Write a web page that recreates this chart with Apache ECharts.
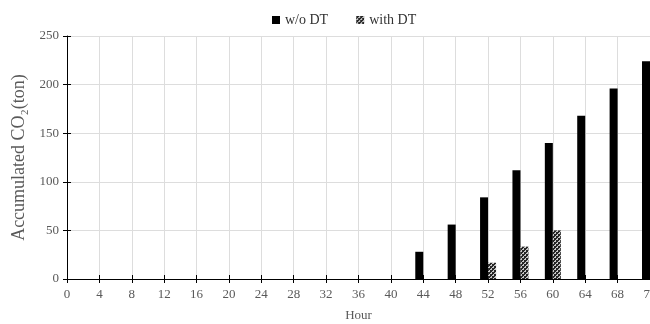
<!DOCTYPE html>
<html>
<head>
<meta charset="utf-8">
<script src="https://cdn.jsdelivr.net/npm/echarts@6/dist/echarts.min.js"></script>
<style>html,body{margin:0;padding:0;background:#fff;}#c{width:650px;height:324px;}</style>
</head>
<body>
<div id="c"></div>
<script>
const hours = ['0','4','8','12','16','20','24','28','32','36','40','44','48','52','56','60','64','68','72'];
const withoutDT = [0,0,0,0,0,0,0,0,0,0,0,28,56,84,112,140,168,196,224];
const withDT = [0,0,0,0,0,0,0,0,0,0,0,0,0,16.7,33.3,50,0,0,0];
const yTicks = {min:0, max:250, interval:50};

function makePattern(){
  const c = document.createElement('canvas');
  c.width = 4; c.height = 4;
  const g = c.getContext('2d');
  g.fillStyle = '#c8c8c8'; g.fillRect(0,0,4,4);
  g.fillStyle = '#262626';
  g.fillRect(0,0,2,2); g.fillRect(2,2,2,2);
  g.fillRect(2,0,1,1); g.fillRect(0,2,1,1);
  return c;
}
const pat = {image: makePattern(), repeat: 'repeat'};
const font = '"Liberation Serif", "Times New Roman", serif';

const chart = echarts.init(document.getElementById('c'), null, {renderer:'canvas'});
chart.setOption({
  animation:false,
  textStyle:{fontFamily:font},
  legend:{
    top:8, left:267, itemWidth:8, itemHeight:8, itemGap:28, icon:'rect',
    textStyle:{fontFamily:font, fontSize:14, color:'#333'},
    data:['w/o DT','with DT']
  },
  grid:{left:67, right:0, top:36, bottom:45, containLabel:false, outerBoundsMode:'none'},
  xAxis:[{
    type:'category', data:hours, boundaryGap:false, position:'bottom',
    name:'Hour', nameLocation:'middle', nameGap:30,
    nameTextStyle:{fontFamily:font, fontSize:13, color:'#595959'},
    axisLine:{lineStyle:{color:'#000', width:1}},
    axisTick:{show:true, length:4, lineStyle:{color:'#000'}},
    axisLabel:{fontFamily:font, fontSize:13, color:'#595959', margin:9, interval:0, hideOverlap:false},
    splitLine:{show:true, lineStyle:{color:'#dddddd'}}
  },{
    type:'category', data:hours, boundaryGap:false, position:'bottom',
    axisLine:{show:false}, axisLabel:{show:false}, splitLine:{show:false},
    axisTick:{show:true, inside:true, length:4, lineStyle:{color:'#000'}}
  }],
  yAxis:[{
    type:'value', min:yTicks.min, max:yTicks.max, interval:yTicks.interval,
    name:'Accumulated CO\u2082(ton)', nameLocation:'middle', nameGap:37,
    nameTextStyle:{fontFamily:font, fontSize:18, color:'#595959'},
    axisLine:{show:true, lineStyle:{color:'#000'}},
    axisTick:{show:true, length:4, lineStyle:{color:'#000'}},
    axisLabel:{fontFamily:font, fontSize:13, color:'#595959', margin:8},
    splitLine:{show:true, lineStyle:{color:'#dddddd'}}
  },{
    type:'value', min:yTicks.min, max:yTicks.max, interval:yTicks.interval, position:'left',
    axisLine:{show:false}, axisLabel:{show:false}, splitLine:{show:false},
    axisTick:{show:true, inside:true, length:4, lineStyle:{color:'#000'}}
  }],
  series:[{
    name:'w/o DT', type:'bar', data:withoutDT, barWidth:8, barGap:'0%',
    itemStyle:{color:'#000'}
  },{
    name:'with DT', type:'bar', data:withDT, barWidth:8, barGap:'0%',
    itemStyle:{color:pat}
  }]
});
</script>
</body>
</html>
